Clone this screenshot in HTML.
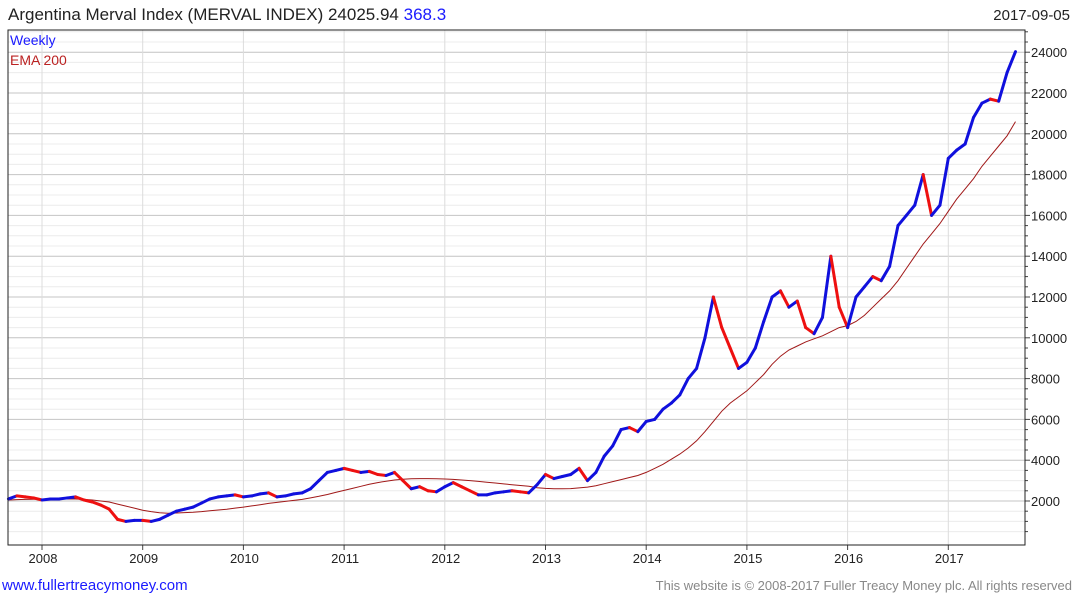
<!DOCTYPE html>
<html><head><meta charset="utf-8"><style>
body{margin:0;background:#fff;font-family:"Liberation Sans",sans-serif;}
svg text{font-family:"Liberation Sans",sans-serif;}
</style></head><body>
<svg id="c" width="1075" height="600" xmlns="http://www.w3.org/2000/svg">
<text x="8" y="20" font-size="17" fill="#222">Argentina Merval Index (MERVAL INDEX) 24025.94 <tspan fill="#1a1aff">368.3</tspan></text>
<text x="1070" y="20" font-size="15" fill="#222" text-anchor="end">2017-09-05</text>
<g id="grid"></g><g id="ema"></g><g id="price"></g><g id="axes"></g>
<path d="M8,30 H1025 V545 H8 Z" fill="none" stroke="#222" stroke-width="1"/>
<text x="10" y="45" font-size="14" fill="#1a1aff">Weekly</text>
<text x="10" y="65" font-size="14" fill="#b22">EMA 200</text>
<text x="2" y="590" font-size="15" fill="#1a1aff">www.fullertreacymoney.com</text>
<text x="1072" y="590" font-size="13" fill="#888" text-anchor="end">This website is © 2008-2017 Fuller Treacy Money plc. All rights reserved</text>
</svg>
<script>
const startYear = 2007.667;
const closes = [2100,2250,2200,2150,
2050,2100,2100,2150,2200,2050,1950,1800,1600,1100,1000,1050,
1050,1000,1100,1300,1500,1600,1700,1900,2100,2200,2250,2300,
2200,2250,2350,2400,2200,2250,2350,2400,2600,3000,3400,3500,
3600,3500,3400,3450,3300,3250,3400,3000,2600,2700,2500,2450,
2700,2900,2700,2500,2300,2300,2400,2450,2500,2450,2400,2800,
3300,3100,3200,3300,3600,3000,3400,4200,4700,5500,5600,5400,
5900,6000,6500,6800,7200,8000,8500,10000,12000,10500,9500,8500,
8800,9500,10800,12000,12300,11500,11800,10500,10200,11000,14000,11500,
10500,12000,12500,13000,12800,13500,15500,16000,16500,18000,16000,16500,
18800,19200,19500,20800,21500,21700,21600,23000,24026];
const ema = [2050,2070,2080,2090,
2100,2100,2100,2100,2100,2080,2050,2000,1950,1850,1750,1650,
1550,1480,1420,1400,1410,1430,1450,1480,1520,1560,1600,1650,
1700,1760,1820,1880,1930,1980,2030,2080,2150,2230,2320,2420,
2520,2620,2720,2820,2900,2970,3030,3070,3090,3100,3100,3090,
3080,3060,3030,3000,2960,2920,2880,2840,2800,2760,2720,2650,
2620,2600,2600,2610,2640,2680,2750,2850,2950,3050,3150,3250,
3400,3600,3800,4050,4300,4600,4950,5400,5900,6400,6800,7100,
7400,7800,8200,8700,9100,9400,9600,9800,9950,10100,10300,10500,
10600,10800,11100,11500,11900,12300,12800,13400,14000,14600,15100,15600,
16200,16800,17300,17800,18400,18900,19400,19900,20600];
const yTicks = [2000,4000,6000,8000,10000,12000,14000,16000,18000,20000,22000,24000];
const xYears = [2008,2009,2010,2011,2012,2013,2014,2015,2016,2017];
const NS="http://www.w3.org/2000/svg";
const X = t => 42 + (t-2008)*100.7;
const Y = v => 501 - (v-2000)*40.8/2000;
function mk(tag,attrs,parent){const e=document.createElementNS(NS,tag);for(const k in attrs)e.setAttribute(k,attrs[k]);document.getElementById(parent).appendChild(e);return e;}
for(let v=500;v<=25000;v+=500){const y=Y(v);if(y<30||y>545)continue;
 const g=mk('line',{x1:8,x2:1025,y1:y,y2:y,stroke:v%2000===0?'#c4c4c4':'#ececec','stroke-width':1},'grid');
 
 
 const tk=mk('line',{x1:1025,x2:v%2000===0?1030:1028,y1:y,y2:y,stroke:'#444'},'axes');
 
 }
xYears.forEach(yr=>{const x=X(yr);
 const g=mk('line',{x1:x,x2:x,y1:30,y2:545,stroke:'#dcdcdc','stroke-width':1},'grid');
 
 
 const t=mk('text',{x:x+1,y:563,'font-size':13,fill:'#222','text-anchor':'middle'},'axes');t.textContent=yr;
 
 
 const l=mk('line',{x1:x,x2:x,y1:545,y2:550,stroke:'#444'},'axes');
 
 });
yTicks.forEach(v=>{const t=mk('text',{x:1031,y:Y(v)+5,'font-size':13,fill:'#222'},'axes');t.textContent=v;
 
 });
let d='';ema.forEach((v,i)=>{d+=(i?'L':'M')+X(startYear+i/12).toFixed(1)+','+Y(v).toFixed(1);});
const ep=mk('path',{d:d,fill:'none',stroke:'#a01818','stroke-width':1},'ema');


for(let i=1;i<closes.length;i++){const up=closes[i]>=closes[i-1];
 const s=mk('line',{x1:X(startYear+(i-1)/12),y1:Y(closes[i-1]),x2:X(startYear+i/12),y2:Y(closes[i]),stroke:up?'#1010dd':'#ee1010','stroke-width':3,'stroke-linecap':'round'},'price');
 
 }
</script>
</body></html>
